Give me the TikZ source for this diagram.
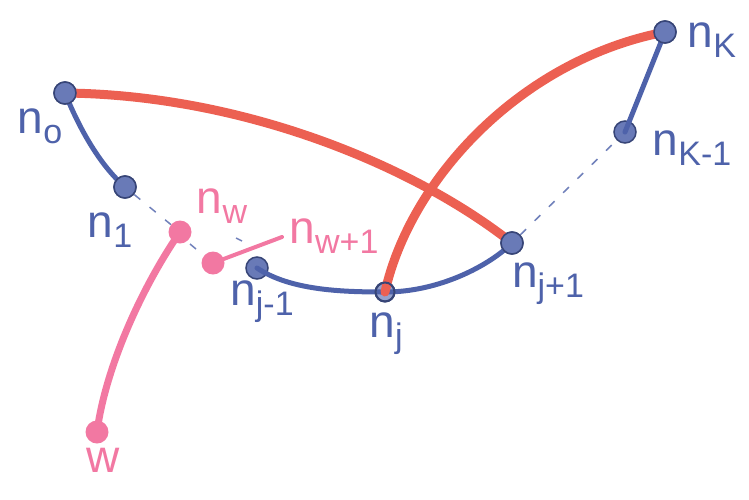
\documentclass[tikz,border=0pt]{standalone}
\usepackage{fontspec}
\setmainfont{Liberation Sans}
\definecolor{pen}{RGB}{78,98,170}
\definecolor{redpen}{RGB}{236,96,82}
\definecolor{pinkpen}{RGB}{242,120,162}
\newcommand\lsub[1]{\raisebox{-0.22em}{\fontsize{34}{34}\selectfont #1}}
\begin{document}
\begin{tikzpicture}[x=1pt,y=-1pt,
  bdot/.style={circle,fill=pen!85,draw=pen!70!black,line width=1.5pt,minimum size=22pt,inner sep=0pt},
  pdot/.style={circle,fill=pinkpen,minimum size=23pt,inner sep=0pt},
  bedge/.style={draw=pen,line width=5pt,line cap=round},
  redge/.style={draw=redpen,line width=9pt,line cap=round},
  pedge/.style={draw=pinkpen,line width=7pt,line cap=round},
  dashedge/.style={draw=pen!80,line width=1.5pt,dash pattern=on 8pt off 12pt},
  lab/.style={text=pen,font=\fontsize{46}{46}\selectfont,inner sep=0pt},
  plab/.style={text=pinkpen,font=\fontsize{46}{46}\selectfont,inner sep=0pt}]
\useasboundingbox (0,0) rectangle (749,499);
% nodes
\node[bdot] (n0) at (65,93) {};
\node[bdot] (n1) at (125,187) {};
\node[pdot] (nw) at (180,232) {};
\node[pdot] (nw1) at (213,263) {};
\node[pdot] (w) at (97,432) {};
\node[bdot] (nj1) at (257,268) {};
\node[circle,draw=pen!70!black,fill=pen!60,line width=2pt,minimum size=19pt,inner sep=0pt] (nj) at (385,292) {};
\node[bdot] (njp) at (512,243) {};
\node[bdot] (nk1) at (625,132) {};
\node[bdot] (nk) at (665,32) {};
\coordinate (nw1end) at (282,237);
\coordinate (stubA) at (196,249);
\coordinate (stubB) at (242,241);
% blue edges
\draw[bedge] (n0.center) .. controls (80,130) and (100,165) .. (n1.center);
\draw[bedge] (nj1.center) .. controls (290,290) and (340,292) .. (nj.center);
\draw[bedge] (nj.center) .. controls (440,292) and (490,265) .. (njp.center);
\draw[bedge] (nk1.center) -- (nk.center);
\draw[dashedge] (n1) -- (nw);
\draw[dashedge] (njp) -- (nk1);
\draw[draw=pen!80,line width=1.5pt] (stubA) -- ++(-6,-5);
\draw[draw=pen!80,line width=1.5pt] (stubB) -- ++(-6,-3);
% pink edges
\draw[pedge] (nw.center) .. controls (140,290) and (105,370) .. (w.center);
\draw[draw=pinkpen,line width=4pt,line cap=round] (nw1.center) -- (nw1end);
% red edges
\draw[redge] (n0.center) .. controls (250,95) and (420,170) .. (njp.center);
\draw[redge] (nj.center) .. controls (410,180) and (520,60) .. (nk.center);
% redraw dots on top
\node[bdot] at (n0) {};
\node[bdot] at (n1) {};
\node[bdot] at (njp) {};
\node[bdot] at (nk) {};
\node[circle,draw=pen!70!black,line width=2pt,minimum size=19pt,inner sep=0pt] at (nj) {};
% labels
\node[lab] (ln0) at (40,126) {n\lsub{o}};
\node[lab] (ln1) at (110,230) {n\lsub{1}};
\node[plab] (lnw) at (222,206) {n\lsub{w}};
\node[plab] (lnw1) at (334,236) {n\lsub{w+1}};
\node[lab] (lnj1) at (262,302) {n\lsub{j-1}};
\node[lab] (lnj) at (386,334) {n\lsub{j}};
\node[lab] (lnjp) at (548,284) {n\lsub{j+1}};
\node[lab] (lnk1) at (692,148) {n\lsub{K-1}};
\node[lab] (lnk) at (712,40) {n\lsub{K}};
\node[plab] (lw) at (103,460) {w};
\end{tikzpicture}
\end{document}
